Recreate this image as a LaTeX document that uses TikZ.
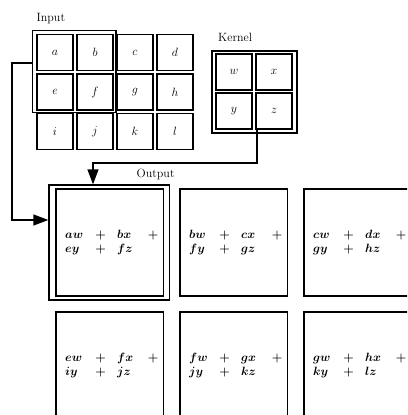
\documentclass[tikz,border=0pt]{standalone}
\usetikzlibrary{arrows.meta}
\newcommand{\ctok}[1]{\hbox to 0pt{\hss#1\hss}}
\newcommand{\ltok}[1]{\hbox to 0pt{#1\hss}}
\newcommand{\outcell}[7]{%
  \node[obox] (#1) at (#2+53.75,#3+53.5) {};
  \node[eq] (#1a) at (#2+9,#3+49) {\ltok{$#4$}\hspace{35.5pt}\ctok{$+$}\hspace{16.5pt}\ltok{$#5$}\hspace{36pt}\ctok{$+$}};
  \node[eq] (#1b) at (#2+9,#3+63.5) {\ltok{$#6$}\hspace{35.5pt}\ctok{$+$}\hspace{16.5pt}\ltok{$#7$}};
}
\begin{document}
\begin{tikzpicture}[x=1pt,y=-1pt,
  every node/.style={font=\fontsize{12}{14.4}\selectfont},
  cell/.style={draw,line width=1.4pt,minimum size=36pt,inner sep=0pt},
  frame/.style={draw,line width=1.3pt,inner sep=0pt},
  obox/.style={draw,line width=1.4pt,minimum width=107.5pt,minimum height=107pt,inner sep=0pt},
  lbl/.style={anchor=base west,inner sep=0pt},
  eq/.style={anchor=base west,inner sep=0pt,font=\fontsize{12}{14.4}\selectfont\boldmath},
  arr/.style={line width=1.3pt,-{Triangle[length=15pt,width=11pt]}}]
\useasboundingbox (0,0) rectangle (407,415);
\clip (0,0) rectangle (407,415);
% labels
\node[lbl] (inlbl) at (36.5,21.5) {Input};
\node[lbl] (kerlbl) at (218,41.5) {Kernel};
\node[lbl] (outlbl) at (136.5,177) {Output};
% input grid
\node[cell] (a) at (55,52.5) {$a$};
\node[cell] (b) at (95,52.5) {$b$};
\node[cell] (c) at (135,52.5) {$c$};
\node[cell] (d) at (175,52.5) {$d$};
\node[cell] (e) at (55,92) {$e$};
\node[cell] (f) at (95,92) {$f$};
\node[cell] (g) at (135,92) {$g$};
\node[cell] (h) at (175,92) {$h$};
\node[cell] (i) at (55,131.5) {$i$};
\node[cell] (j) at (95,131.5) {$j$};
\node[cell] (k) at (135,131.5) {$k$};
\node[cell] (l) at (175,131.5) {$l$};
\node[frame,minimum width=83.5pt,minimum height=82pt] (win) at (74.25,71.5) {};
% kernel
\node[cell] (w) at (234,72) {$w$};
\node[cell] (x) at (274,72) {$x$};
\node[cell] (y) at (234,111) {$y$};
\node[cell] (z) at (274,111) {$z$};
\node[frame,minimum width=85pt,minimum height=82pt] (kern) at (254.5,92) {};
% output
\outcell{o11}{56}{189}{aw}{bx}{ey}{fz}
\outcell{o12}{180}{189}{bw}{cx}{fy}{gz}
\outcell{o13}{304}{189}{cw}{dx}{gy}{hz}
\outcell{o21}{56}{312}{ew}{fx}{iy}{jz}
\outcell{o22}{180}{312}{fw}{gx}{jy}{kz}
\outcell{o23}{304}{312}{gw}{hx}{ky}{lz}
\node[frame,minimum width=120.5pt,minimum height=115pt] (oframe) at (109.25,242.5) {};
% connectors
\draw[arr] (win.west |- 0,63) -- (12,63) |- (oframe.west |- 0,220);
\draw[arr] (z.south -| 257,0) -- (257,163) -| (oframe.north -| 93,0);
\end{tikzpicture}
\end{document}
